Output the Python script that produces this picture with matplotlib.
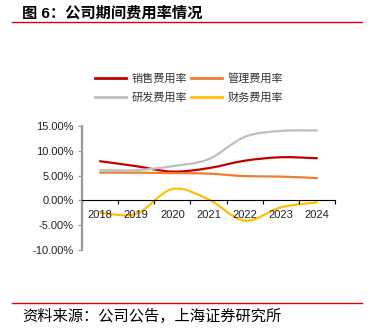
import matplotlib
matplotlib.use('Agg')
import matplotlib.pyplot as plt
from matplotlib.path import Path
from matplotlib.patches import PathPatch
from matplotlib.lines import Line2D
from matplotlib.ticker import FuncFormatter

plt.rcParams['font.family'] = ['Liberation Sans', 'Noto Sans CJK SC', 'DejaVu Sans']

# 数据
years = ['2018', '2019', '2020', '2021', '2022', '2023', '2024']
sales_rate = [7.9, 6.9, 5.8, 6.5, 8.0, 8.7, 8.5]      # 销售费用率
admin_rate = [5.6, 5.6, 5.5, 5.4, 4.9, 4.8, 4.5]      # 管理费用率
rd_rate = [6.1, 6.1, 6.9, 8.3, 12.8, 14.0, 14.1]      # 研发费用率
fin_rate = [-2.5, -2.7, 2.3, 0.2, -4.1, -1.4, -0.4]   # 财务费用率

series = [
    ('销售费用率', sales_rate, '#C00000'),
    ('管理费用率', admin_rate, '#ED7D31'),
    ('研发费用率', rd_rate, '#BFBFBF'),
    ('财务费用率', fin_rate, '#FFC000'),
]


def smooth_path(xs, ys, t=1/6):
    """Catmull-Rom 平滑曲线 -> 三次贝塞尔路径（类似 Excel 平滑线）"""
    n = len(xs)
    verts = [(xs[0], ys[0])]
    codes = [Path.MOVETO]
    for i in range(n - 1):
        x0, y0 = (xs[i - 1], ys[i - 1]) if i > 0 else (xs[i], ys[i])
        x1, y1 = xs[i], ys[i]
        x2, y2 = xs[i + 1], ys[i + 1]
        x3, y3 = (xs[i + 2], ys[i + 2]) if i + 2 < n else (x2, y2)
        c1 = (x1 + (x2 - x0) * t, y1 + (y2 - y0) * t)
        c2 = (x2 - (x3 - x1) * t, y2 - (y3 - y1) * t)
        verts += [c1, c2, (x2, y2)]
        codes += [Path.CURVE4] * 3
    return Path(verts, codes)


fig = plt.figure(figsize=(3.71, 3.34), dpi=100)
ax = fig.add_axes([82 / 371, 1 - 250 / 334, 253 / 371, 124 / 334])

xs = list(range(len(years)))
for name, vals, color in series:
    ax.add_patch(PathPatch(smooth_path(xs, vals), facecolor='none',
                           edgecolor=color, lw=1.6, capstyle='round'))

ax.set_xlim(-0.5, len(years) - 0.5)
ax.set_ylim(-10, 15)
ax.set_yticks([-10, -5, 0, 5, 10, 15])
ax.yaxis.set_major_formatter(FuncFormatter(lambda v, p: f'{v:.2f}%'))

for s in ['top', 'right']:
    ax.spines[s].set_visible(False)
ax.spines['bottom'].set_position(('data', 0))
ax.spines['bottom'].set_color('black')
ax.spines['bottom'].set_linewidth(0.8)
ax.spines['left'].set_color('#999999')
ax.spines['left'].set_linewidth(1.6)

ax.set_xticks(xs)
ax.set_xticklabels(years)
ax.set_xticks([i - 0.5 for i in range(len(years) + 1)], minor=True)
ax.tick_params(axis='x', which='major', length=0, pad=7, labelsize=8, labelcolor='#222222')
ax.tick_params(axis='x', which='minor', length=3, width=0.8, color='black')
ax.tick_params(axis='y', length=3, width=0.8, color='#999999', labelsize=8,
               labelcolor='#222222', pad=3)

# 图例按行排列：第一行 销售、管理；第二行 研发、财务
order = [0, 2, 1, 3]
handles = [Line2D([], [], color=series[i][2], lw=2) for i in order]
labels = [series[i][0] for i in order]
fig.legend(handles, labels, ncol=2, loc='center', bbox_to_anchor=(0.51, 1 - 88 / 334),
           frameon=False, fontsize=8, handlelength=2.8, handletextpad=0.5,
           columnspacing=0.3, labelspacing=0.8, labelcolor='#333333')

# 标题与来源
fig.text(22 / 371, 1 - 13 / 334, '图 6：公司期间费用率情况', fontsize=11,
         fontweight='bold', va='center', ha='left')
fig.add_artist(Line2D([12 / 371, 362 / 371], [1 - 22 / 334, 1 - 22 / 334],
                      color='#E00000', lw=1.0, transform=fig.transFigure))
fig.add_artist(Line2D([12 / 371, 362 / 371], [1 - 303 / 334, 1 - 303 / 334],
                      color='#E00000', lw=1.0, transform=fig.transFigure))
fig.text(22 / 371, 1 - 316 / 334, '资料来源：公司公告，上海证券研究所', fontsize=11,
         style='italic', va='center', ha='left')

fig.savefig('out.png', dpi=100)
